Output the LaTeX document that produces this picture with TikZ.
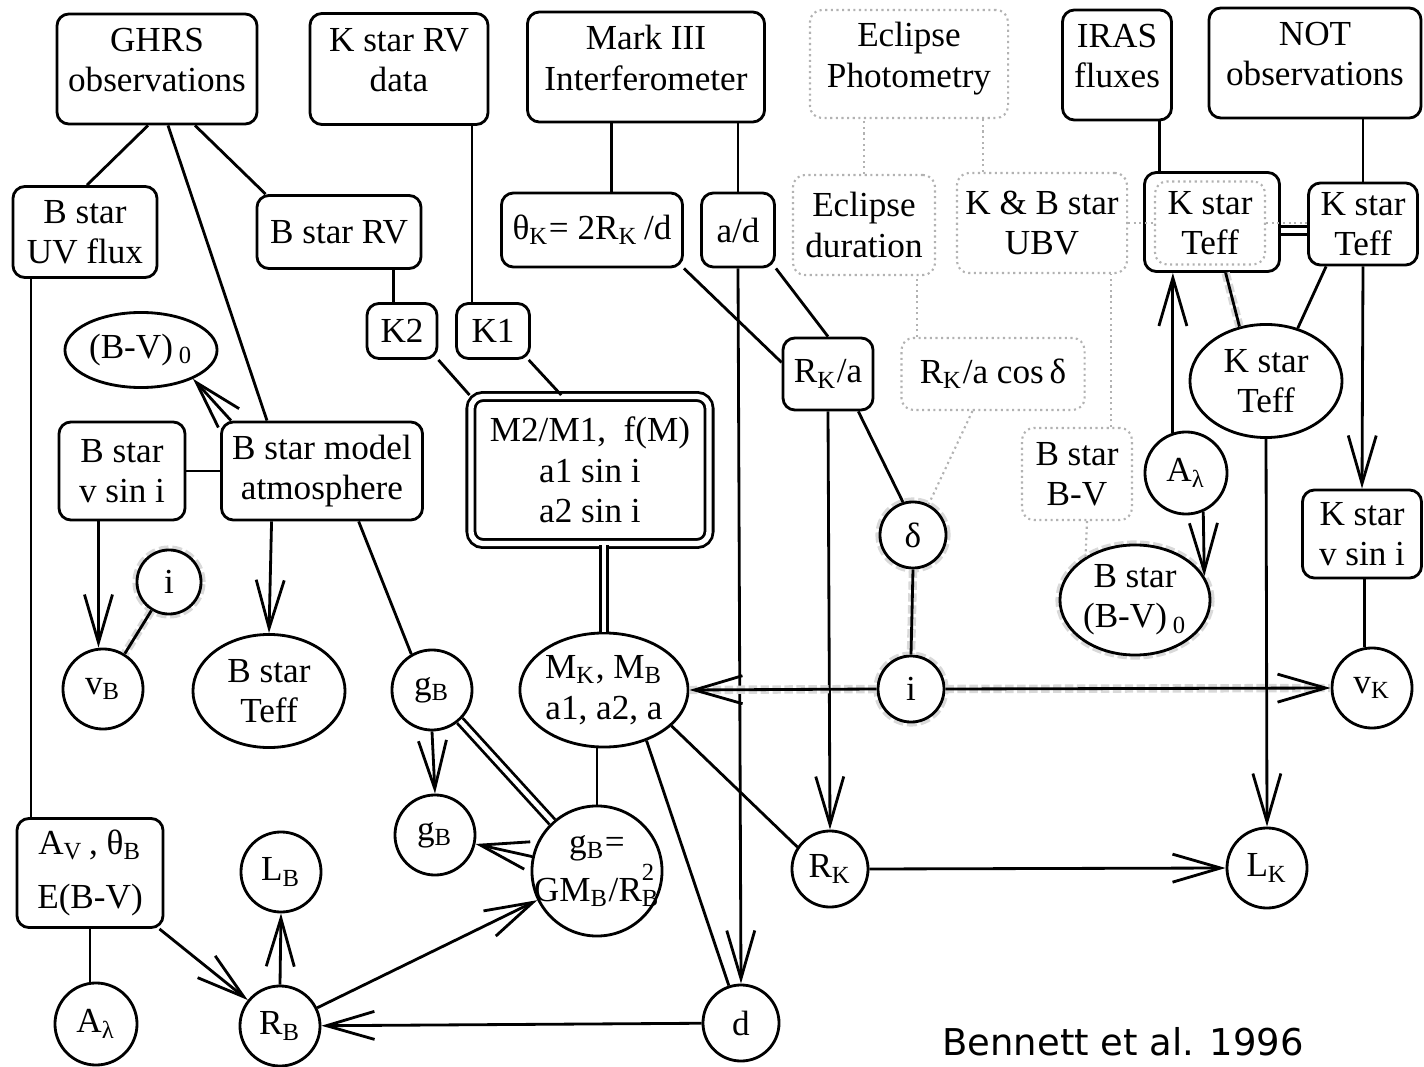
\documentclass[tikz,border=0pt]{standalone}
\usepackage{fontspec}
\setmainfont{Liberation Serif}
\newfontfamily\capfont{DejaVu Sans}
\usetikzlibrary{shapes.geometric,arrows.meta}

\begin{document}
\begin{tikzpicture}[x=0.01cm, y=-0.01cm,
  font=\fontsize{10}{11.5}\selectfont,
  box/.style={draw, line width=0.8pt, rounded corners=1.2mm, align=center, inner sep=1pt},
  topbox/.style={box, text depth=1.8mm},
  dotbox/.style={draw=gray!60, densely dotted, line width=0.6pt, rounded corners=1.2mm, align=center, inner sep=1pt},
  circ/.style={draw, circle, line width=0.8pt, inner sep=0pt},
  oval/.style={draw, ellipse, line width=0.8pt, align=center, inner sep=0pt},
  halo/.style={fill=white, preaction={draw=gray!30, line width=2.6pt, densely dotted}},
  link/.style={line width=0.8pt},
  arr/.style={link, -{Straight Barb[length=4.8mm, width=2.8mm]}},
  twin/.style={link, double, double distance=1.3pt},
  grayedge/.style={preaction={draw=gray!30, line width=2.4pt, densely dotted, -}},
  pale/.style={draw=gray!60, densely dotted, line width=0.6pt}]
\useasboundingbox (0,0) rectangle (1424,1067);

% Observations
\node[topbox, minimum width=2cm, minimum height=1.1cm] (ghrs) at (157,69) {GHRS\\observations};
\node[topbox, minimum width=1.78cm, minimum height=1.11cm] (kstarrv) at (399,69) {K star RV\\data};
\node[topbox, minimum width=2.37cm, minimum height=1.1cm] (mark) at (646,67) {Mark III\\Interferometer};
\node[dotbox, text depth=1.8mm, minimum width=1.98cm, minimum height=1.08cm] (eclph) at (909,64) {Eclipse\\Photometry};
\node[topbox, minimum width=1.09cm, minimum height=1.1cm] (iras) at (1117,65) {IRAS\\fluxes};
\node[topbox, minimum width=2.12cm, minimum height=1.1cm] (notobs) at (1315,63) {NOT\\observations};

% Second row
\node[box, minimum width=1.44cm, minimum height=0.91cm] (uv) at (85,232) {B star\\UV flux};
\node[box, minimum width=1.64cm, minimum height=0.73cm] (brv) at (339,232) {B star RV};
\node[box, minimum width=1.81cm, minimum height=0.74cm] (thk) at (592,230) {θ\textsubscript{K}= 2R\textsubscript{K}\,/d};
\node[box, minimum width=0.73cm, minimum height=0.74cm] (ad) at (738,230) {a/d};
\node[dotbox, minimum width=1.42cm, minimum height=1cm] (dur) at (864,225) {Eclipse\\duration};
\node[dotbox, minimum width=1.7cm, minimum height=1cm] (ubv) at (1042,223) {K \& B star\\UBV};
\node[box, minimum width=1.35cm, minimum height=0.99cm] (ktl) at (1212,222) {};
\node[dotbox, minimum width=1.1cm, minimum height=0.83cm] (ktin) at (1210,223) {K star\\Teff};
\node[box, minimum width=1.09cm, minimum height=0.82cm] (ktr) at (1363,224) {K star\\Teff};

% Third row
\node[box, minimum width=0.7cm, minimum height=0.55cm] (k2) at (402,331) {K2};
\node[box, minimum width=0.73cm, minimum height=0.55cm] (k1) at (493,331) {K1};
\node[oval, minimum width=1.52cm, minimum height=0.75cm] (bvl) at (141,350) {(B-V)\,\textsubscript{0}};
\node[box, minimum width=0.9cm, minimum height=0.72cm] (rka) at (828,374) {R\textsubscript{K}/a};
\node[dotbox, minimum width=1.83cm, minimum height=0.72cm] (rkcos) at (993,374) {R\textsubscript{K}/a cos\,δ};
\node[oval, minimum width=1.52cm, minimum height=1.13cm] (kte) at (1266,381) {K star\\Teff};

% Fourth row
\node[box, minimum width=1.26cm, minimum height=0.98cm] (bvsini) at (122,471) {B star\\v sin i};
\node[box, minimum width=2.01cm, minimum height=0.98cm] (atm) at (322,471) {B star model\\atmosphere};
\node[box, double, double distance=1.5pt, minimum width=2.38cm, minimum height=1.47cm] (m2) at (590,470) {M2/M1,\ \ f(M)\\a1 sin i\\a2 sin i};
\node[dotbox, minimum width=1.1cm, minimum height=0.92cm] (bsbv) at (1077,474) {B star\\B-V};
\node[circ, minimum size=0.82cm] (alr) at (1186,473) {A\textsubscript{λ}};
\node[box, minimum width=1.19cm, minimum height=0.88cm] (kvsini) at (1362,534) {K star\\v sin i};
\node[circ, halo, minimum size=0.66cm] (delta) at (913,535) {δ};
\node[oval, halo, minimum width=1.5cm, minimum height=1.1cm] (bv0) at (1135,600) {B star\\(B-V)\,\textsubscript{0}};

% Fifth row
\node[circ, halo, minimum size=0.64cm] (il) at (169,582) {i};
\node[circ, minimum size=0.8cm] (vb) at (103,689) {v\textsubscript{B}};
\node[oval, minimum width=1.52cm, minimum height=1.13cm] (bst) at (269,691) {B star\\Teff};
\node[circ, minimum size=0.8cm] (gbu) at (432,690) {g\textsubscript{B}};
\node[oval, minimum width=1.68cm, minimum height=1.14cm] (mk) at (604,690) {M\textsubscript{K}, M\textsubscript{B}\\a1, a2, a};
\node[circ, halo, minimum size=0.66cm] (ic) at (911,689) {i};
\node[circ, minimum size=0.8cm] (vk) at (1372,688) {v\textsubscript{K}};

% Sixth row
\node[box, minimum width=1.46cm, minimum height=1.09cm] (av) at (90,873) {A\textsubscript{V}\,, θ\textsubscript{B}\\[4pt]E(B-V)};
\node[circ, minimum size=0.8cm] (lb) at (281,872) {L\textsubscript{B}};
\node[circ, minimum size=0.8cm] (gbl) at (435,835) {g\textsubscript{B}};
\node[circ, align=center, inner sep=-2pt, minimum size=1.3cm] (gbeq) at (597,871) {g\textsubscript{B}=\\GM\textsubscript{B}/R\rlap{\raisebox{0.5ex}{\textsuperscript{2}}}\textsubscript{B}};
\node[circ, minimum size=0.76cm] (rk) at (830,869) {R\textsubscript{K}};
\node[circ, minimum size=0.8cm] (lk) at (1267,868) {L\textsubscript{K}};

% Bottom row
\node[circ, minimum size=0.82cm] (al) at (96,1024) {A\textsubscript{λ}};
\node[circ, minimum size=0.8cm] (rb) at (280,1026) {R\textsubscript{B}};
\node[circ, minimum size=0.76cm] (dist) at (741,1023) {d};
\node[anchor=base west, font=\capfont\fontsize{10.5}{12}\selectfont] (cite) at (930,1055) {Bennett et al. 1996};

% Spectroscopy links
\draw[link] ([xshift=-0.9mm]ghrs.south) -- ([xshift=0.2mm]uv.north);
\draw[link] ([xshift=1.1mm]ghrs.south) -- ([xshift=-5.5mm]atm.north);
\draw[link] ([xshift=3.8mm]ghrs.south) -- ([xshift=1mm]brv.north west);
\draw[link] (k2.106) -- (k2.106 |- brv.south);
\draw[link] (k1.126) -- (k1.126 |- kstarrv.south);
\draw[link] (k2.south east) -- (m2.north west);
\draw[link] (k1.-39) -- (m2.111);

% Interferometry
\draw[link] (thk.63) -- (thk.63 |- mark.south);
\draw[link] (ad.north) -- (ad.north |- mark.south);
\draw[link] (thk.south east) -- (rka.166);
\draw[link] (ad.south east) -- (rka.north);
\draw[arr] (ad.south) -- (dist.north);
\draw[arr] (rka.south) -- (rk.north);
\draw[link] (rka.-51) -- (delta.107);

% Eclipse photometry
\draw[pale] (dur.north) -- (dur.north |- eclph.south);
\draw[pale] (ubv.139) -- (ubv.139 |- eclph.south);
\draw[pale] (rkcos.154) -- (rkcos.154 |- dur.south);
\draw[pale] (rkcos.-119) -- (delta.63);
\draw[pale] (bsbv.54) -- (bsbv.54 |- ubv.south);
\draw[pale] (bsbv.-78) -- (bv0.139);
\draw[pale] (ubv.east) -- (ktin.west);
\draw[pale] (ktin.east) -- (ktin.east -| ktr.west);

% K star temperature
\draw[link] (ktl.136) -- (ktl.136 |- iras.south);
\draw[link] (ktr.north) -- (ktr.north |- notobs.south);
\draw[twin] (ktl.-7) -- (ktl.-7 -| ktr.west);
\draw[link, grayedge] (ktl.-75) -- (kte.116);
\draw[link] (ktr.-131) -- (kte.59);
\draw[arr] (ktr.south) -- (kvsini.north);
\draw[link] (vk.100 |- kvsini.south) -- (vk.100);
\draw[arr] (kte.south) -- (lk.north);
\draw[arr] (alr.108) -- (alr.108 |- ktl.south);
\draw[arr] (alr.-66) -- (bv0.19);

% Inclination and masses
\draw[link, grayedge] (delta.south) -- (ic.north);
\draw[arr, grayedge] (ic.west) -- (mk.east);
\draw[arr, grayedge] (ic.east) -- (vk.west);
\draw[twin] (mk.north) -- (mk.north |- m2.south);
\draw[link] (gbeq.north) -- (gbeq.north |- mk.south);
\draw[link] (mk.-50) -- (dist.108);
\draw[link] (mk.-28) -- (rk.146);
\draw[arr] (rk.east) -- (lk.west);

% B star side
\draw[link] (uv.-139) -- (uv.-139 |- av.north);
\draw[link] (bvsini.east) -- (atm.west);
\draw[arr] (atm.151) -- (bvl.-29);
\draw[arr] (atm.-135) -- (bst.north);
\draw[link] (atm.-54) -- (gbu.120);
\draw[arr] (bvsini.-115) -- (bvsini.-115 |- vb.north);
\draw[link, grayedge] (il) -- (vb);
\draw[arr] (gbu.south) -- (gbl.north);
\draw[twin] (gbu) -- (gbeq);
\draw[arr] (gbeq) -- (gbl);
\draw[link] (av.south) -- (av.south |- al.north);
\draw[arr] (av) -- (rb);
\draw[arr] (rb.north) -- (lb.south);
\draw[arr] (rb) -- (gbeq);
\draw[arr] (dist) -- (rb);

\end{tikzpicture}
\end{document}
